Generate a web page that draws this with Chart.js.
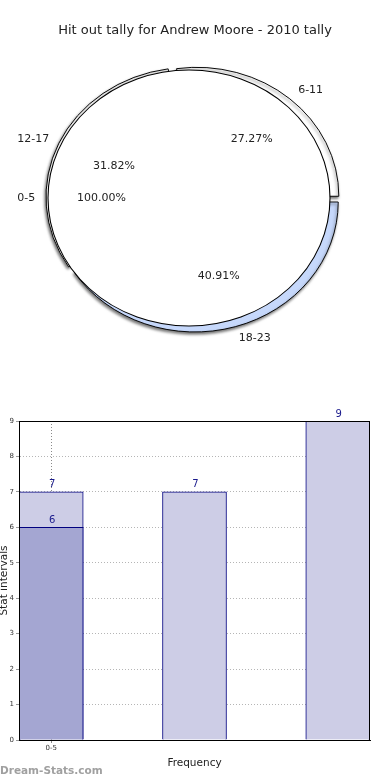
<!DOCTYPE html>
<html>
<head>
<meta charset="utf-8">
<script src="https://cdn.jsdelivr.net/npm/chart.js@4/dist/chart.umd.min.js"></script>
<style>
  html, body { margin: 0; padding: 0; background: #fff; }
  body { width: 390px; height: 780px; position: relative; overflow: hidden; font-family: "DejaVu Sans", sans-serif; }
  #title { position: absolute; left: 0; top: 22px; width: 390px; text-align: center; font-size: 13px; line-height: 16px; color: #222; z-index: 5; }
  #pieBox { position: absolute; left: 0; top: 0; width: 390px; height: 380px; }
  #pieBox canvas { position: absolute; left: 0; top: 0; }
  #barCanvas { position: absolute; left: 0; top: 380px; }
  #mark { position: absolute; left: 0; top: 762px; font-size: 10.5px; font-weight: bold; color: #a0a0a0; line-height: 16px; }
</style>
</head>
<body>
<div id="title">Hit out tally for Andrew Moore - 2010 tally</div>
<div id="pieBox">
  <canvas id="pieBack" width="390" height="380"></canvas>
  <canvas id="pieFront" width="390" height="380"></canvas>
</div>
<canvas id="barCanvas" width="390" height="400"></canvas>
<div id="mark">Dream-Stats.com</div>
<script>
// ---- data ----
const pieCategories = ['6-11', '12-17', '18-23'];
const pieValues = [6, 7, 9];
const baseCategory = ['0-5'];
const baseValues = [6];

const barTickLabels = ['0-5'];
const lightBars = [7, 7, 9];
const darkBars = [6];

// ---- pie geometry / style ----
const FRONT = { padRight: 12, padTop: 16, radius: 141, sy: 128 / 141, labelR: 1.09 };
const BACK = { padRight: 2, padTop: 18.4, radius: 142, sy: 128.9 / 142, labelR: 1.12 };
const BACK_OFFSETS = [17, 24, 12]; // explode per slice: 6-11, 12-17, 18-23

const ellipsePlugin = {
  id: 'ellipse',
  beforeDatasetsDraw(chart, args, opts) {
    const ctx = chart.ctx;
    const el = chart.getDatasetMeta(0).data[0];
    const cx = el.x, cy = el.y;
    ctx.save();
    ctx.translate(cx, cy);
    ctx.scale(1, opts.sy);
    ctx.translate(-cx, -cy);
    if (opts.shadow) {
      ctx.shadowColor = 'rgba(0,0,0,0.55)';
      ctx.shadowBlur = 3;
      ctx.shadowOffsetX = -1;
      ctx.shadowOffsetY = 2;
    }
  },
  afterDatasetsDraw(chart, args, opts) {
    const ctx = chart.ctx;
    if (opts.outline) {
      // outline of the full (100%) slice, from the arc element's own geometry
      chart.getDatasetMeta(0).data.forEach((el) => {
        ctx.beginPath();
        ctx.arc(el.x, el.y, el.outerRadius, 0, Math.PI * 2);
        ctx.lineWidth = 1.1;
        ctx.strokeStyle = '#000';
        ctx.stroke();
      });
    }
    ctx.restore();
  }
};

let backChart;

function drawPieLabels(ctx, srcChart, geo) {
  const meta = srcChart.getDatasetMeta(0);
  const ds = srcChart.data.datasets[0];
  const labels = srcChart.data.labels;
  const total = ds.data.reduce((a, b) => a + b, 0);
  const sy = geo.sy;
  ctx.save();
  ctx.font = '11px "DejaVu Sans"';
  ctx.fillStyle = '#222';
  ctx.textBaseline = 'middle';
  meta.data.forEach((arc, i) => {
    if (!ds.data[i]) return;
    const cx = arc.x, cy = arc.y, R = arc.outerRadius;
    const mid = (arc.startAngle + arc.endAngle) / 2;
    const c = Math.cos(mid), s = Math.sin(mid);
    const pct = (ds.data[i] / total * 100).toFixed(2) + '%';
    ctx.textAlign = 'center';
    ctx.fillText(pct, cx + c * R * 0.62, cy + s * R * 0.62 * sy);
    const rr = R * geo.labelR;
    ctx.textAlign = c >= 0.01 ? 'left' : 'right';
    ctx.fillText(labels[i], cx + c * rr, cy + s * rr * sy);
  });
  ctx.restore();
}

const pieLabelPlugin = {
  id: 'pieLabels',
  afterDraw(chart) {
    if (backChart) drawPieLabels(chart.ctx, backChart, BACK);
    drawPieLabels(chart.ctx, chart, FRONT);
  }
};

const commonPieOpts = (geo, extra) => ({
  responsive: false,
  animation: false,
  rotation: 90,
  radius: geo.radius,
  layout: { padding: { left: 0, right: geo.padRight, top: geo.padTop, bottom: 0 } },
  plugins: {
    legend: { display: false },
    tooltip: { enabled: false },
    ellipse: Object.assign({ sy: geo.sy }, extra)
  },
  events: []
});

backChart = new Chart(document.getElementById('pieBack'), {
  type: 'pie',
  data: {
    labels: [...pieCategories].reverse(),
    datasets: [{
      data: [...pieValues].reverse(),
      backgroundColor: ['#c6d8fb', '#ffffff', '#ffffff'],
      borderColor: '#000000',
      borderWidth: 1,
      offset: [...BACK_OFFSETS].reverse(),
      clip: false
    }]
  },
  options: commonPieOpts(BACK, { shadow: true }),
  plugins: [ellipsePlugin]
});

new Chart(document.getElementById('pieFront'), {
  type: 'pie',
  data: {
    labels: baseCategory,
    datasets: [{
      data: baseValues,
      backgroundColor: '#ffffff',
      borderWidth: 0,
      clip: false
    }]
  },
  options: commonPieOpts(FRONT, { outline: true }),
  plugins: [ellipsePlugin, pieLabelPlugin]
});

// ---- bar chart ----
const valueLabelPlugin = {
  id: 'valueLabels',
  afterDraw(chart) {
    const ctx = chart.ctx;
    ctx.save();
    ctx.font = '10px "DejaVu Sans"';
    ctx.fillStyle = '#1a1a8c';
    ctx.textAlign = 'center';
    ctx.textBaseline = 'bottom';
    chart.data.datasets.forEach((ds, di) => {
      chart.getDatasetMeta(di).data.forEach((bar, i) => {
        ctx.fillText(String(ds.data[i].y), bar.x + 1, bar.y - 2);
      });
    });
    ctx.restore();
  }
};

const boxPlugin = {
  id: 'box',
  afterDraw(chart) {
    const { left, right, top, bottom } = chart.chartArea;
    const ctx = chart.ctx;
    ctx.save();
    ctx.strokeStyle = '#000';
    ctx.lineWidth = 1;
    ctx.strokeRect(Math.round(left) + 0.5, Math.round(top) + 0.5, Math.round(right - left) - 1, Math.round(bottom - top));
    ctx.restore();
  }
};

new Chart(document.getElementById('barCanvas'), {
  type: 'bar',
  data: {
    datasets: [
      {
        data: darkBars.map((v, i) => ({ x: i, y: v })),
        backgroundColor: '#a4a6d2',
        borderColor: '#000080',
        borderWidth: 1,
        barThickness: 64,
        grouped: false,
        order: 0
      },
      {
        data: lightBars.map((v, i) => ({ x: i, y: v })),
        backgroundColor: '#cdcde6',
        borderColor: '#000080',
        borderWidth: 1,
        barThickness: 64,
        grouped: false,
        order: 1
      }
    ]
  },
  options: {
    responsive: false,
    animation: false,
    events: [],
    layout: { padding: { left: 0, right: 20, top: 41, bottom: 10 } },
    plugins: { legend: { display: false }, tooltip: { enabled: false } },
    scales: {
      x: {
        type: 'linear',
        offset: false,
        min: -0.225,
        max: 2.225,
        z: 1,
        afterBuildTicks: (s) => { s.ticks = barTickLabels.map((t, i) => ({ value: i })); },
        afterFit: (s) => { s.height = 30; },
        ticks: {
          font: { size: 7, family: 'DejaVu Sans' },
          color: '#333',
          padding: 1,
          maxRotation: 0,
          autoSkip: false,
          callback: (v) => barTickLabels[v] !== undefined ? barTickLabels[v] : ''
        },
        grid: { color: '#8a8a8a', tickLength: 3, drawTicks: true, offset: false },
        border: { color: '#000', dash: [1, 2] },
        title: {
          display: true,
          text: 'Frequency',
          font: { size: 10.5, family: 'DejaVu Sans' },
          color: '#222',
          padding: { top: 0, bottom: 0 }
        }
      },
      y: {
        min: 0,
        max: 9,
        z: 1,
        afterFit: (s) => { s.width = 19; },
        ticks: { stepSize: 1, font: { size: 7, family: 'DejaVu Sans' }, color: '#333', padding: 2 },
        grid: { color: '#b5b5b5', tickLength: 3, tickColor: '#999' },
        border: { color: '#000', dash: [1, 2] },
        title: {
          display: true,
          text: 'Stat intervals',
          font: { size: 10.5, family: 'DejaVu Sans', lineHeight: 0.8 },
          color: '#222',
          padding: { top: 0, bottom: 0 }
        }
      }
    }
  },
  plugins: [valueLabelPlugin, boxPlugin]
});
</script>
</body>
</html>
